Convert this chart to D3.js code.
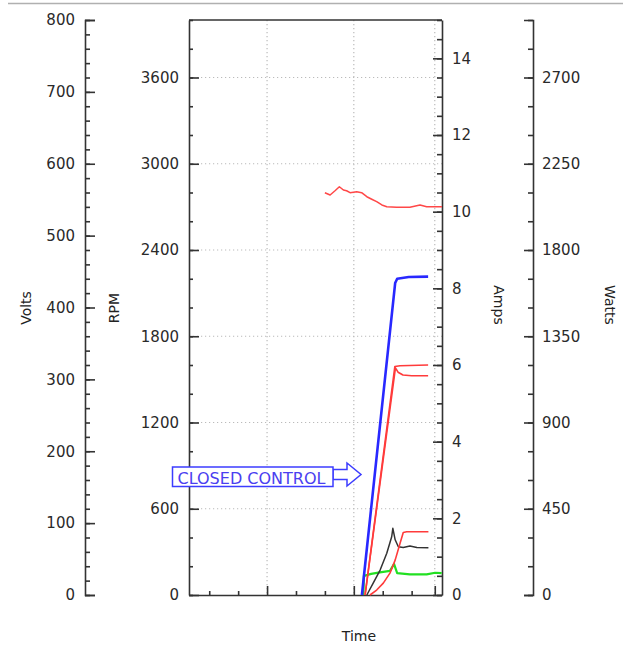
<!DOCTYPE html>
<html>
<head>
<meta charset="utf-8">
<script src="https://cdn.jsdelivr.net/npm/d3@7"></script>
<style>
  html, body { margin: 0; padding: 0; background: #fff; }
  svg { display: block; }
  text { font-family: "DejaVu Sans", Verdana, sans-serif; }
</style>
</head>
<body>
<svg id="chart" width="623" height="645"></svg>
<script>
// ---------------- data ----------------
const timeDomain = [-7, 80.5];
const timeMajorTicks = [20, 50, 78];
const timeMinorTicks = [0, 10, 30, 40, 60, 70];

const voltsDomain = [0, 800];
const voltsTicks = [0, 100, 200, 300, 400, 500, 600, 700, 800];
const rpmDomain = [0, 4000];
const rpmTicks = [0, 600, 1200, 1800, 2400, 3000, 3600];
const ampsDomain = [0, 15];
const ampsTicks = [0, 2, 4, 6, 8, 10, 12, 14];
const wattsDomain = [0, 3000];
const wattsTicks = [0, 450, 900, 1350, 1800, 2250, 2700];

// RPM (blue)
const speedTime = [52.8, 64.3, 65.0, 69.0, 75.7];
const speedRPM  = [0, 2170, 2200, 2212, 2215];

// Watts (red, upper)
const powerTime  = [40.0, 41.8, 43.5, 45.0, 46.4, 47.5, 48.7, 51.0, 52.7, 54.5, 56.2, 57.9, 59.7, 61.4, 64.8, 69.4, 72.9, 75.2, 80.5];
const powerWatts = [2099, 2087, 2109, 2130, 2113, 2109, 2099, 2104, 2099, 2078, 2065, 2052, 2035, 2026, 2023, 2023, 2035, 2026, 2026];

// Volts (red pair)
const voltsATime = [53.9, 64.2, 66.0, 75.7];
const voltsA     = [0, 318, 319, 320];
const voltsBTime = [53.9, 64.4, 65.3, 67.0, 70.0, 75.7];
const voltsB     = [0, 316, 310, 306, 305, 305];

// Amps (black)
const ampsBlackTime = [54.5, 56.7, 59.1, 61.4, 63.1, 63.5, 64.3, 65.4, 67.1, 69.4, 71.8, 75.8];
const ampsBlack     = [0, 0.31, 0.65, 1.09, 1.52, 1.74, 1.44, 1.26, 1.24, 1.28, 1.24, 1.23];

// Amps (red, lower)
const ampsRedTime = [55.6, 57.9, 60.2, 62.5, 64.3, 66.0, 67.1, 68.3, 75.8];
const ampsRed     = [0, 0.13, 0.31, 0.57, 0.91, 1.35, 1.63, 1.65, 1.65];

// Amps (green)
const ampsGreenTime = [53.3, 53.5, 56.0, 59.0, 62.5, 63.9, 65.0, 69.4, 75.2, 78.1, 80.4];
const ampsGreen     = [0, 0.50, 0.55, 0.59, 0.63, 0.81, 0.57, 0.54, 0.54, 0.58, 0.57];

const annotationText = "CLOSED CONTROL";

// ---------------- layout ----------------
const plot = { left: 189, right: 442, top: 20, bottom: 595 };
const voltsAxisX = 85, wattsAxisX = 533;
const axisColor = "#333", gridColor = "#bbb";

const svg = d3.select("#chart");

// top separator line
svg.append("line").attr("x1", 8).attr("x2", 623).attr("y1", 3.5).attr("y2", 3.5)
  .attr("stroke", "#b0b0b0").attr("stroke-width", 1.5);

const x = d3.scaleLinear().domain(timeDomain).range([plot.left, plot.right]);
const yV = d3.scaleLinear().domain(voltsDomain).range([plot.bottom, plot.top]);
const yR = d3.scaleLinear().domain(rpmDomain).range([plot.bottom, plot.top]);
const yA = d3.scaleLinear().domain(ampsDomain).range([plot.bottom, plot.top]);
const yW = d3.scaleLinear().domain(wattsDomain).range([plot.bottom, plot.top]);

// grid
const grid = svg.append("g").attr("stroke", gridColor).attr("stroke-width", 1.2).attr("stroke-dasharray", "1.2,2.8");
rpmTicks.filter(v => v > 0).forEach(v => {
  grid.append("line").attr("x1", plot.left).attr("x2", plot.right).attr("y1", yR(v)).attr("y2", yR(v));
});
timeMajorTicks.forEach(t => {
  grid.append("line").attr("x1", x(t)).attr("x2", x(t)).attr("y1", plot.top).attr("y2", plot.bottom);
});

function styleAxis(g, fontSize) {
  g.selectAll("path, line").attr("stroke", axisColor).attr("stroke-width", 1.6);
  g.selectAll("text").attr("fill", "#2a2a2a").style("font-size", fontSize + "px")
    .style("font-family", '"DejaVu Sans", Verdana, sans-serif');
  g.attr("font-family", null);
}

function range(step, max) { return d3.range(0, max + step / 2, step); }
const fmt = d3.format("d");

// Volts axis (ticks right, labels left)
const gVm = svg.append("g").attr("transform", `translate(${voltsAxisX},0)`)
  .call(d3.axisLeft(yV).tickValues(range(20, 800)).tickSize(-5).tickFormat(""));
styleAxis(gVm, 15); gVm.select(".domain").remove();
const gV = svg.append("g").attr("transform", `translate(${voltsAxisX},0)`)
  .call(d3.axisLeft(yV).tickValues(voltsTicks).tickSize(-10).tickPadding(10).tickFormat(fmt));
styleAxis(gV, 15);

// RPM axis (plot left edge)
const gRm = svg.append("g").attr("transform", `translate(${plot.left},0)`)
  .call(d3.axisLeft(yR).tickValues(range(200, 4000)).tickSize(-4).tickFormat(""));
styleAxis(gRm, 15); gRm.select(".domain").remove();
const gR = svg.append("g").attr("transform", `translate(${plot.left},0)`)
  .call(d3.axisLeft(yR).tickValues(rpmTicks).tickSize(-10).tickSizeOuter(0).tickPadding(10).tickFormat(fmt));
styleAxis(gR, 15);

// Amps axis (plot right edge)
const gAm = svg.append("g").attr("transform", `translate(${plot.right},0)`)
  .call(d3.axisRight(yA).tickValues(range(0.5, 15)).tickSize(-5).tickFormat(""));
styleAxis(gAm, 15); gAm.select(".domain").remove();
const gA = svg.append("g").attr("transform", `translate(${plot.right},0)`)
  .call(d3.axisRight(yA).tickValues(ampsTicks).tickSize(-9).tickSizeOuter(0).tickPadding(10).tickFormat(fmt));
styleAxis(gA, 15);

// Watts axis
const gWm = svg.append("g").attr("transform", `translate(${wattsAxisX},0)`)
  .call(d3.axisRight(yW).tickValues(range(150, 3000)).tickSize(-5).tickFormat(""));
styleAxis(gWm, 15); gWm.select(".domain").remove();
const gW = svg.append("g").attr("transform", `translate(${wattsAxisX},0)`)
  .call(d3.axisRight(yW).tickValues(wattsTicks).tickSize(-9).tickPadding(9).tickFormat(fmt));
styleAxis(gW, 15);

// Time axis (bottom)
const gTm = svg.append("g").attr("transform", `translate(0,${plot.bottom})`)
  .call(d3.axisBottom(x).tickValues(timeMinorTicks).tickSize(-4).tickFormat("").tickSizeOuter(0));
styleAxis(gTm, 15);
const gT = svg.append("g").attr("transform", `translate(0,${plot.bottom})`)
  .call(d3.axisBottom(x).tickValues(timeMajorTicks).tickSize(-9).tickFormat("").tickSizeOuter(0));
styleAxis(gT, 15); gT.select(".domain").remove();

// top border
svg.append("line").attr("x1", plot.left).attr("x2", plot.right).attr("y1", plot.top).attr("y2", plot.top)
  .attr("stroke", axisColor).attr("stroke-width", 1.6);

// axis titles
const titleStyle = s => s.attr("fill", "#222").style("font-size", "14px");
svg.append("text").text("Volts").attr("transform", "translate(31,308) rotate(-90)")
  .attr("text-anchor", "middle").call(titleStyle);
svg.append("text").text("RPM").attr("transform", "translate(119,308) rotate(-90)")
  .attr("text-anchor", "middle").call(titleStyle);
svg.append("text").text("Amps").attr("transform", "translate(494,305) rotate(90)")
  .attr("text-anchor", "middle").call(titleStyle);
svg.append("text").text("Watts").attr("transform", "translate(605,305) rotate(90)")
  .attr("text-anchor", "middle").call(titleStyle);
svg.append("text").text("Time").attr("x", 359).attr("y", 641)
  .attr("text-anchor", "middle").call(titleStyle);

// series
const lines = svg.append("g").attr("fill", "none").attr("stroke-linejoin", "round");
function drawSeries(times, vals, yScale, color, width) {
  const pts = times.map((t, i) => [t, vals[i]]);
  lines.append("path").datum(pts)
    .attr("d", d3.line().x(d => x(d[0])).y(d => yScale(d[1])))
    .attr("stroke", color).attr("stroke-width", width);
}
drawSeries(powerTime, powerWatts, yW, "#ff4848", 1.5);
drawSeries(ampsGreenTime, ampsGreen, yA, "#22e022", 2.2);
drawSeries(ampsBlackTime, ampsBlack, yA, "#333333", 1.5);
drawSeries(ampsRedTime, ampsRed, yA, "#ff3b3b", 1.6);
drawSeries(voltsBTime, voltsB, yV, "#ff3b3b", 1.6);
drawSeries(voltsATime, voltsA, yV, "#ff3b3b", 1.6);
drawSeries(speedTime, speedRPM, yR, "#2828ff", 2.6);

// annotation
const ann = svg.append("g");
ann.append("path")
  .attr("d", "M333,469.5 H347 V463 L361,474.5 L347,486 V479.5 H333 Z")
  .attr("fill", "#fff").attr("stroke", "#3c3cff").attr("stroke-width", 1.5);
ann.append("rect").attr("x", 172.5).attr("y", 467).attr("width", 160.5).attr("height", 19.5)
  .attr("fill", "#fff").attr("stroke", "#3c3cff").attr("stroke-width", 1.5);
ann.append("text").text(annotationText).attr("x", 177.5).attr("y", 483.5)
  .attr("fill", "#4a3ef0").style("font-size", "16px");
</script>
</body>
</html>
